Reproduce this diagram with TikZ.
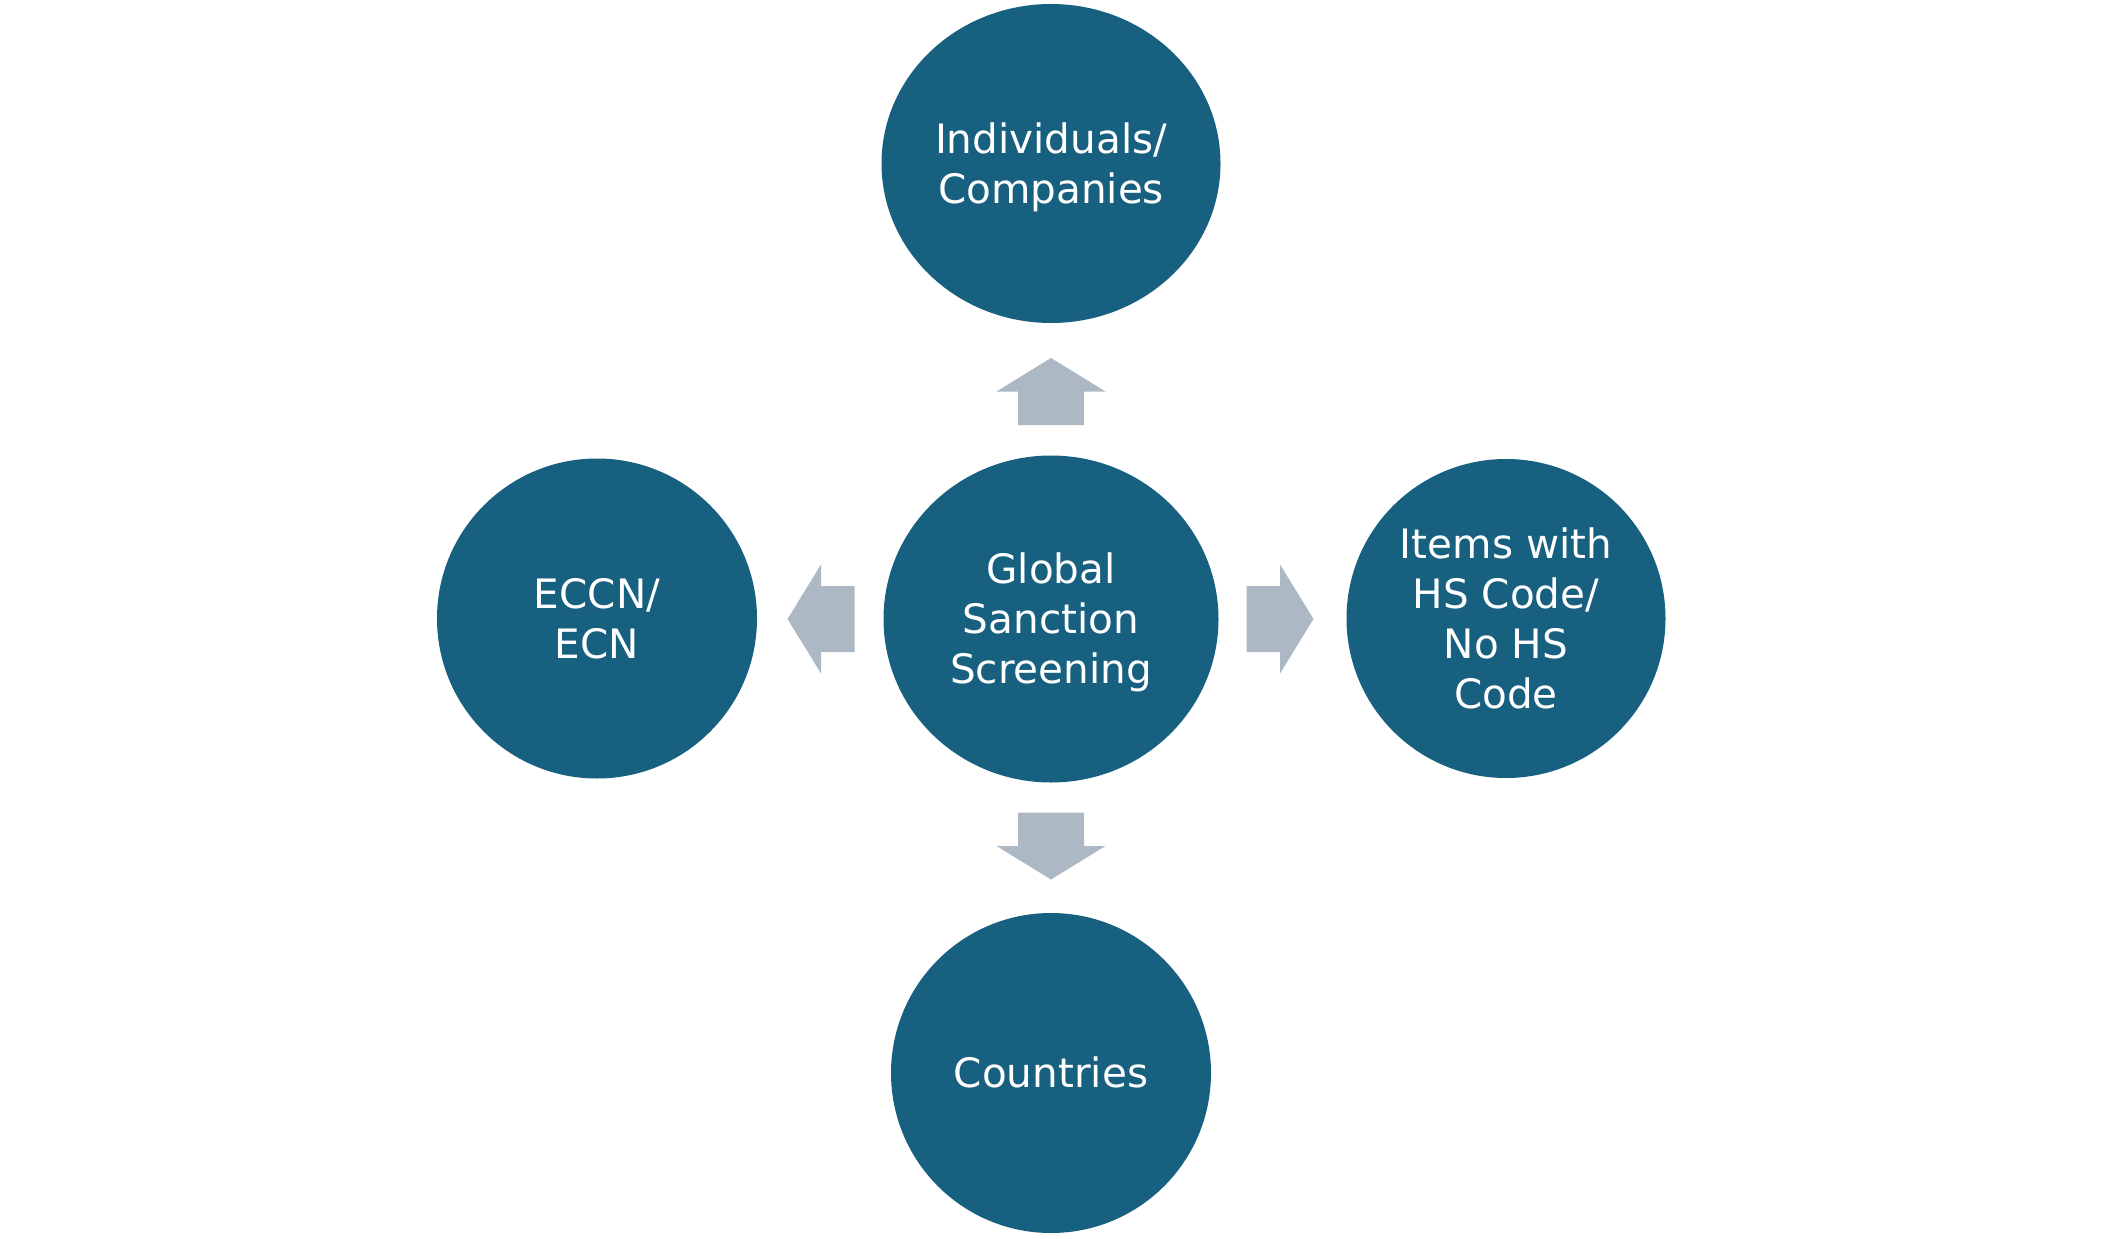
\documentclass[tikz,border=0pt]{standalone}
\usepackage{fontspec}
\setmainfont{DejaVu Sans}
\usetikzlibrary{shapes.geometric}
\definecolor{circblue}{RGB}{24,96,128}
\definecolor{arrowgray}{RGB}{172,184,196}
\tikzset{
  circ/.style={ellipse, fill=circblue, draw=none, inner sep=0pt, text=white,
    align=center, font=\fontsize{40.5}{50}\selectfont, text depth=0pt},
  lines/.style={text height={29.5pt+50pt*(#1-1)}},
  blockarr/.style={fill=arrowgray, draw=none}
}
\newcommand\blockarrow[2]{%
  \fill[blockarr, shift={(#1)}, rotate=#2]
    (-33.5,-33) -- (0,-33) -- (0,-54.5) -- (33.5,0) -- (0,54.5) -- (0,33) -- (-33.5,33) -- cycle;}
\begin{document}
\begin{tikzpicture}[x=1pt,y=-1pt]
\useasboundingbox (0,0) rectangle (2101,1239);
\node[circ, lines=2, minimum width=339pt, minimum height=319pt] (top) at (1051,163.5) {Individuals/\\Companies};
\node[circ, lines=3, minimum width=335pt, minimum height=327pt] (mid) at (1051,619) {Global\\Sanction\\Screening};
\node[circ, lines=2, minimum width=320pt, minimum height=320pt] (left) at (597,618.5) {ECCN/\\ECN};
\node[circ, lines=4, minimum width=319pt, minimum height=319pt] (right) at (1506,618.5) {Items with\\HS Code/\\No HS\\Code};
\node[circ, lines=1, minimum width=320pt, minimum height=320pt] (bot) at (1051,1073) {Countries};
\path (1051,391.5) coordinate (aup);
\path (1051,846) coordinate (adown);
\path (821,619) coordinate (aleft);
\path (1280,619) coordinate (aright);
\blockarrow{aup}{90}
\blockarrow{adown}{-90}
\blockarrow{aleft}{180}
\blockarrow{aright}{0}
\end{tikzpicture}
\end{document}
